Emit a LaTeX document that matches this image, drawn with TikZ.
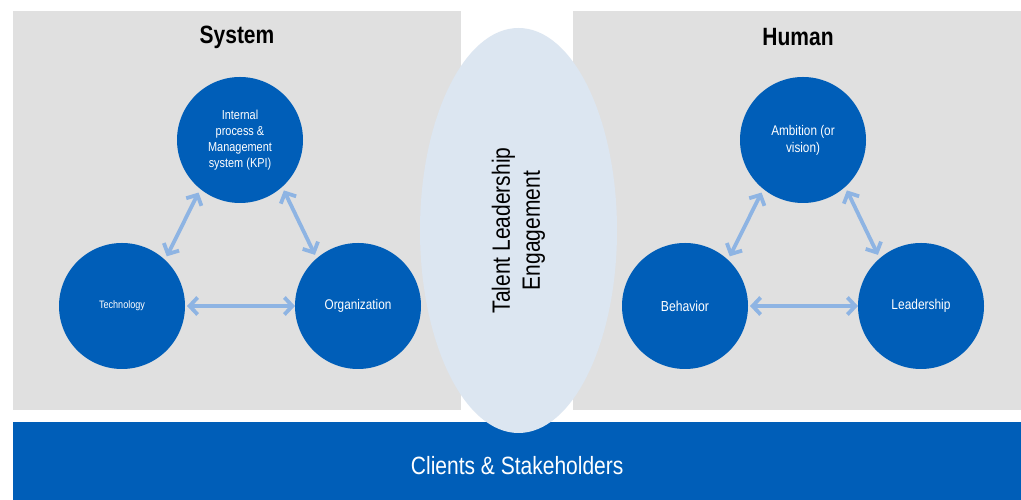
\documentclass[tikz,border=0pt]{standalone}
\usepackage{fontspec}
\setmainfont{Liberation Sans}[FakeStretch=0.84]
\usetikzlibrary{arrows.meta,shapes.geometric}
\definecolor{panelgray}{HTML}{E0E0E0}
\definecolor{mainblue}{HTML}{005EB8}
\definecolor{paleblue}{HTML}{DCE6F1}
\definecolor{arrowblue}{HTML}{8EB4E3}
\tikzset{
  panel/.style={fill=panelgray, draw=none},
  bubble/.style={circle, fill=mainblue, draw=none, minimum size=126pt, inner sep=2pt, outer sep=0pt, text=white, align=center},
  title/.style={font=\bfseries\fontsize{25}{30}\selectfont, text=black},
  link/.style={draw=arrowblue, line width=3.8pt, {Straight Barb[length=8pt,width=17pt]}-{Straight Barb[length=8pt,width=17pt]}},
}
\begin{document}
\begin{tikzpicture}[x=1pt,y=1pt]
\useasboundingbox (0,0) rectangle (1021,500);
\fill[white] (0,0) rectangle (1021,500);
% panels
\path[panel] (13,90) rectangle (461,489);
\path[panel] (573,90) rectangle (1021,489);
\node[fill=mainblue, minimum width=1008pt, minimum height=78pt, inner sep=0pt, anchor=south west] (band) at (13,0) {};
\node[text=white, font=\fontsize{25}{30}\selectfont] (bandtext) at ([yshift=-5pt]band.center) {Clients \& Stakeholders};
% center ellipse
\node[ellipse, fill=paleblue, minimum width=405pt, minimum height=197pt, inner sep=0pt, rotate=90, align=center, font=\fontsize{25}{30}\selectfont] (core) at (518.5,269.5) {Talent Leadership\\Engagement};
% titles
\node[title] (systitle) at (237,463) {System};
\node[title] (humtitle) at (798,463) {Human};
% System circles
\node[bubble, font=\fontsize{13}{16}\selectfont] (kpi) at (240,360) {Internal\\process \&\\Management\\system (KPI)};
\node[bubble, font=\fontsize{10.8}{13}\selectfont] (tech) at (122,194) {Technology};
\node[bubble, font=\fontsize{14}{17}\selectfont] (org) at (358,194) {Organization};
% Human circles
\node[bubble, font=\fontsize{14}{17}\selectfont] (amb) at (803,360) {Ambition (or\\vision)};
\node[bubble, font=\fontsize{14.5}{17}\selectfont] (beh) at (685,194) {Behavior};
\node[bubble, font=\fontsize{14.2}{17}\selectfont] (lead) at (921,194) {Leadership};
% connectors
\draw[link, shorten <=4pt, shorten >=4pt] (kpi.231) -- (tech.47);
\draw[link, shorten <=4pt, shorten >=4pt] (kpi.-48) -- (org.131);
\draw[link, shorten <=2pt] (tech.east) -- (org.west);
\draw[link, shorten <=4pt, shorten >=4pt] (amb.231) -- (beh.47);
\draw[link, shorten <=4pt, shorten >=4pt] (amb.-48) -- (lead.131);
\draw[link, shorten <=2pt] (beh.east) -- (lead.west);
\end{tikzpicture}
\end{document}
